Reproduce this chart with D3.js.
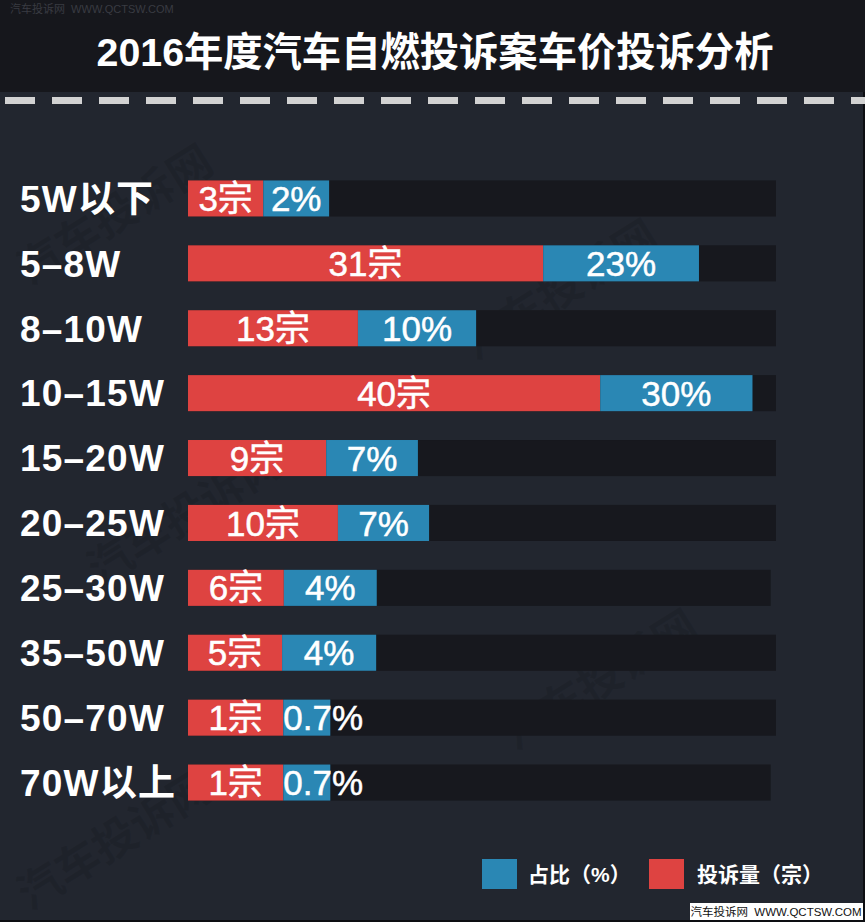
<!DOCTYPE html>
<html><head><meta charset="utf-8">
<script src="https://cdn.jsdelivr.net/npm/d3@7"></script>
<style>
html,body{margin:0;padding:0;background:#22262f;}
svg{display:block;}
</style></head>
<body>
<script>
// ---- data ----
const categories = ["5W以下","5–8W","8–10W","10–15W","15–20W","20–25W","25–30W","35–50W","50–70W","70W以上"];
const complaintCounts = [3,31,13,40,9,10,6,5,1,1];           // 投诉量（宗）
const sharePct = [2,23,10,30,7,7,4,4,0.7,0.7];                  // 占比（%）
// drawn segment lengths, as % of the full track (infographic is not to scale)
const countBarLen = [12.8,60.4,28.9,70.1,23.5,25.5,16.3,16.0,16.2,16.2];
const shareBarLen = [11.2,26.5,20.1,25.9,15.6,15.5,15.8,16.0,8.0,8.0];
const trackLen = [100,100,100,100,100,100,99.1,100,100,99.1];
const titleText = "2016年度汽车自燃投诉案车价投诉分析";
const legendItems = ["占比（%）","投诉量（宗）"];

const W = 865, H = 922;
const C = {bg:"#22262f", head:"#16171c", track:"#17181e", red:"#de4341", blue:"#2a87b4", dash:"#d2d2d2"};
const FONT = "'Liberation Sans','Noto Sans CJK SC',Arial,sans-serif";

const svg = d3.select("body").append("svg").attr("width", W).attr("height", H);
svg.append("rect").attr("width", W).attr("height", H).attr("fill", C.bg);
svg.append("rect").attr("width", W).attr("height", 92).attr("fill", C.head);
// frame edges
svg.append("rect").attr("x", 863).attr("y", 92).attr("width", 2).attr("height", 830).attr("fill", "#0d0e12");
svg.append("rect").attr("x", 0).attr("y", 920).attr("width", 865).attr("height", 2).attr("fill", "#0d0e12");

// top-left watermark
svg.append("text").attr("x", 10).attr("y", 13).attr("font-family", FONT).attr("font-size", 11)
  .attr("fill", "#393b42").attr("xml:space","preserve").text("汽车投诉网  WWW.QCTSW.COM");

// title
svg.append("text").attr("x", 435).attr("y", 66).attr("text-anchor", "middle")
  .attr("font-family", FONT).attr("font-weight", "bold").attr("font-size", 39.3)
  .attr("fill", "#ffffff").text(titleText);

// dashed line
svg.append("line").attr("x1", 5).attr("x2", W).attr("y1", 100.5).attr("y2", 100.5)
  .attr("stroke", C.dash).attr("stroke-width", 7).attr("stroke-dasharray", "30 17");

// scales
const x = d3.scaleLinear().domain([0, 100]).range([188, 776]);
const y = d3.scaleBand().domain(categories).range([166, 815]).paddingInner(0.444).paddingOuter(0.222);

const rows = categories.map((c, i) => ({
  cat: c, count: complaintCounts[i], pct: sharePct[i],
  red: countBarLen[i], blue: shareBarLen[i], track: trackLen[i]
}));

// diagonal watermarks (faint, behind the bars)
const wm = [[115,215],[560,290],[185,515],[600,680],[115,840]];
svg.append("g").selectAll("text").data(wm).join("text")
  .attr("transform", d => `translate(${d[0]},${d[1]}) rotate(-32)`)
  .attr("text-anchor", "middle").attr("dy", "0.35em")
  .attr("font-family", FONT).attr("font-weight", "bold").attr("font-size", 44)
  .attr("fill", "#000").attr("fill-opacity", 0.09).text("汽车投诉网");

const g = svg.append("g");
// tracks
g.selectAll("rect.track").data(rows).join("rect").attr("class", "track")
  .attr("x", x(0)).attr("y", d => y(d.cat)).attr("width", d => x(d.track) - x(0))
  .attr("height", y.bandwidth()).attr("fill", C.track);
// red segments
g.selectAll("rect.red").data(rows).join("rect").attr("class", "red")
  .attr("x", x(0)).attr("y", d => y(d.cat)).attr("width", d => x(d.red) - x(0))
  .attr("height", y.bandwidth()).attr("fill", C.red);
// blue segments
g.selectAll("rect.blue").data(rows).join("rect").attr("class", "blue")
  .attr("x", d => x(d.red)).attr("y", d => y(d.cat)).attr("width", d => x(d.red + d.blue) - x(d.red))
  .attr("height", y.bandwidth()).attr("fill", C.blue);

// category labels
g.selectAll("text.cat").data(rows).join("text").attr("class", "cat")
  .attr("x", 20).attr("y", d => y(d.cat) + y.bandwidth() / 2).attr("dy", "0.36em")
  .attr("font-family", FONT).attr("font-weight", "bold").attr("font-size", 37)
  .attr("letter-spacing", 1.2)
  .attr("fill", "#ffffff").text(d => d.cat);

// segment labels
function segLabel(cls, startF, lenF, textF) {
  g.selectAll("text." + cls).data(rows).join("text").attr("class", cls)
    .attr("y", d => y(d.cat) + y.bandwidth() / 2).attr("dy", "0.36em")
    .attr("font-family", FONT).attr("font-size", 35).attr("fill", "#ffffff")
    .attr("stroke", "#ffffff").attr("stroke-width", 0.5)
    .text(textF)
    .each(function (d) {
      const s = x(startF(d)), e = x(startF(d) + lenF(d));
      const w = this.getComputedTextLength();
      if (w > e - s) d3.select(this).attr("x", s).attr("text-anchor", "start");
      else d3.select(this).attr("x", (s + e) / 2).attr("text-anchor", "middle");
    });
}
segLabel("rl", d => 0, d => d.red, d => d.count + "宗");
segLabel("bl", d => d.red, d => d.blue, d => d.pct + "%");

// legend
const lg = svg.append("g");
const legColors = [C.blue, C.red];
const legX = [482, 649], legT = [528, 697];
legendItems.forEach((t, i) => {
  lg.append("rect").attr("x", legX[i]).attr("y", 859).attr("width", 35).attr("height", 30).attr("fill", legColors[i]);
  lg.append("text").attr("x", legT[i]).attr("y", 874).attr("dy", "0.36em")
    .attr("font-family", FONT).attr("font-weight", "bold").attr("font-size", 21)
    .attr("fill", "#ffffff").text(t);
});

// bottom-right site mark
svg.append("rect").attr("x", 690).attr("y", 903).attr("width", 173).attr("height", 17).attr("fill", "#ffffff");
svg.append("text").attr("x", 776).attr("y", 912).attr("dy", "0.35em").attr("text-anchor", "middle")
  .attr("font-family", FONT).attr("font-size", 11.5)
  .attr("fill", "#111").attr("xml:space","preserve")
  .text("汽车投诉网  WWW.QCTSW.COM");
</script>
</body></html>
